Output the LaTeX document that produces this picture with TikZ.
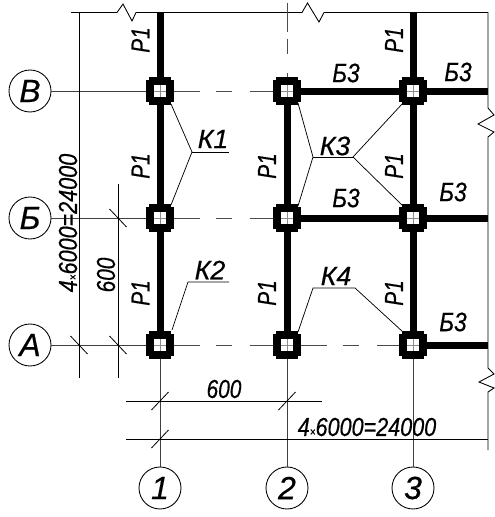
\documentclass[tikz,border=0pt]{standalone}
\usepackage{fontspec}
\setmainfont{Liberation Sans}[ItalicFeatures={FakeBold=0.5}]
\tikzset{
  thin line/.style={line width=0.65pt,black},
  axis/.style={line width=0.6pt,black!75},
  dashaxis/.style={line width=0.6pt,black!70,dash pattern=on 19.5pt off 12pt on 12pt off 13.5pt on 18pt off 100pt},
  dashcol/.style={line width=0.6pt,black!70,dash pattern=on 21.75pt off 5.25pt on 11.25pt off 14.25pt on 4pt off 100pt},
  thick member/.style={line width=5.25pt,black},
  lead/.style={line width=0.55pt,black},
  tick/.style={line width=0.6pt,black},
  colcore/.style={fill=white,inner sep=0pt,minimum size=9.6pt},
  bubble/.style={circle,draw=black,line width=0.65pt,minimum size=31.5pt,inner sep=0pt,fill=white,font=\itshape\fontsize{24}{24}\selectfont},
  lab/.style={inner sep=0pt,font=\itshape\fontsize{19.5}{19.5}\selectfont},
  labb/.style={inner sep=0pt,font=\itshape\fontsize{20}{20}\selectfont},
  dim/.style={inner sep=0pt,font=\itshape\fontsize{19.5}{19.5}\selectfont},
}
\newcommand{\colm}[3]{%
  \fill[black] (#2-14,#3-11) rectangle (#2+14,#3+11);
  \fill[black] (#2-11,#3-14) rectangle (#2+11,#3+14);
  \node[colcore] (#1) at (#2,#3) {};
  \draw[black!45,line width=0.3pt] (#2-6,#3) -- (#2+6,#3) (#2,#3-6) -- (#2,#3+6);
}
\newcommand{\slashA}[2]{\draw[tick] (#1-8.5,#2-9) -- (#1+8.5,#2+9);}
\newcommand{\slashB}[2]{\draw[tick] (#1-8.5,#2+9) -- (#1+8.5,#2-9);}
\newcommand{\cnd}[1]{\scalebox{.8}[1]{#1}}
\begin{document}
\begin{tikzpicture}[x=0.75pt,y=-0.75pt]
\useasboundingbox (0,0) rectangle (494,517);
% bubbles
\node[bubble] (B) at (30,91) {В};
\node[bubble] (Bb) at (30,218) {Б};
\node[bubble] (A) at (30,345) {А};
\node[bubble] (n1) at (160,488) {1};
\node[bubble] (n2) at (287,488) {2};
\node[bubble] (n3) at (413,488) {3};
% grid intersections
\coordinate (t1) at (160,12.5);
\coordinate (t2) at (287,3);
\coordinate (t3) at (413,12.5);
\coordinate (rV) at (488,91);
\coordinate (rB) at (488,218);
\coordinate (rA) at (488,345);
% outline with breaks
\draw[thin line] (71,12.5) -- (117,12.5) -- (123,4) -- (132,21) -- (136,12.5) -- (302,12.5) -- (307.5,3) -- (319,22) -- (324,12.5) -- (488,12.5)
  -- (488,108) -- (494,115) -- (478,124) -- (494,132) -- (488,137) -- (488,368) -- (494,374) -- (479,382) -- (494,388) -- (488,392) -- (488,450);
% axis lines
\draw[axis] (B) -- (160,91);
\draw[axis] (Bb) -- (160,218);
\draw[axis] (A) -- (160,345);
\draw[dashaxis] (174,91) -- (274,91);
\draw[dashaxis] (174,218) -- (274,218);
\draw[dashaxis] (174,345) -- (274,345);
\draw[dashaxis] (301,345) -- (400,345);
\draw[dashcol] (t2) -- (287,78);
\draw[axis] (160,345) -- (n1);
\draw[axis] (287,345) -- (n2);
\draw[axis] (413,345) -- (n3);
% dimension lines
\draw[thin line] (79,12.5) -- (79,378);
\draw[thin line] (118,184) -- (118,378);
\draw[thin line] (126,401) -- (322,401);
\draw[thin line] (126,439) -- (488,439);
\slashA{79}{345}
\slashA{118}{345}
\slashA{118}{218}
\slashB{160}{401}
\slashB{287}{401}
\slashB{160}{439}
% structural members
\draw[thick member] (t1) -- (160,345);
\draw[thick member] (287,91) -- (287,345);
\draw[thick member] (t3) -- (413,345);
\draw[thick member] (287,91) -- (rV);
\draw[thick member] (287,218) -- (rB);
\draw[thick member] (413,345) -- (rA);
% columns
\colm{v1}{160}{91}
\colm{v2}{287}{91}
\colm{v3}{413}{91}
\colm{b1}{160}{218}
\colm{b2}{287}{218}
\colm{b3}{413}{218}
\colm{a1}{160}{345}
\colm{a2}{287}{345}
\colm{a3}{413}{345}
% leaders
\coordinate (k1) at (192,152);
\coordinate (k1e) at (229,152);
\draw[lead] ([shift={(11,13)}]v1.center) -- (k1) -- ([shift={(11,-13)}]b1.center);
\draw[lead] (k1) -- (k1e);
\coordinate (k2) at (188,282);
\coordinate (k2e) at (229,282);
\draw[lead] ([shift={(12,-15)}]a1.center) -- (k2) -- (k2e);
\coordinate (k3a) at (313,157);
\coordinate (k3b) at (353,157);
\draw[lead] ([shift={(11,12)}]v2.center) -- (k3a) -- ([shift={(11,-12)}]b2.center);
\draw[lead] (k3a) -- (k3b);
\draw[lead] ([shift={(-10,12)}]v3.center) -- (k3b) -- ([shift={(-10,-12)}]b3.center);
\coordinate (k4a) at (313,288);
\coordinate (k4b) at (355,288);
\draw[lead] ([shift={(11,-13)}]a2.center) -- (k4a) -- (k4b) -- ([shift={(-10,-13)}]a3.center);
% labels
\foreach \p/\x/\y in {p1/140.5/40,p2/140.5/166,p3/140.5/293,p4/267/166,p5/267/293,p6/394/40,p7/394/166,p8/394/293}
  \node[lab,rotate=90] (\p) at (\x,\y) {\cnd{Р1}};
\foreach \p/\x/\y in {s1/346/73,s2/458/72,s3/346/198,s4/453/192,s5/453/322}
  \node[labb] (\p) at (\x,\y) {\scalebox{.85}[1]{Б3}};
\node[labb] (K1) at (213,139) {К1};
\node[labb] (K2) at (210,270) {К2};
\node[labb] (K3) at (335,146) {К3};
\node[labb] (K4) at (336,276) {К4};
\node[dim,rotate=90] (d1) at (68,223) {\scalebox{.83}[1]{4{\fontsize{9}{9}\selectfont ×}6000=24000}};
\node[dim,rotate=90] (d2) at (106,275) {\scalebox{.8}[1]{600}};
\node[dim] (d3) at (224,389) {\scalebox{.8}[1]{600}};
\node[dim] (d4) at (367,427) {\scalebox{.83}[1]{4{\fontsize{9}{9}\selectfont ×}6000=24000}};
\end{tikzpicture}
\end{document}
